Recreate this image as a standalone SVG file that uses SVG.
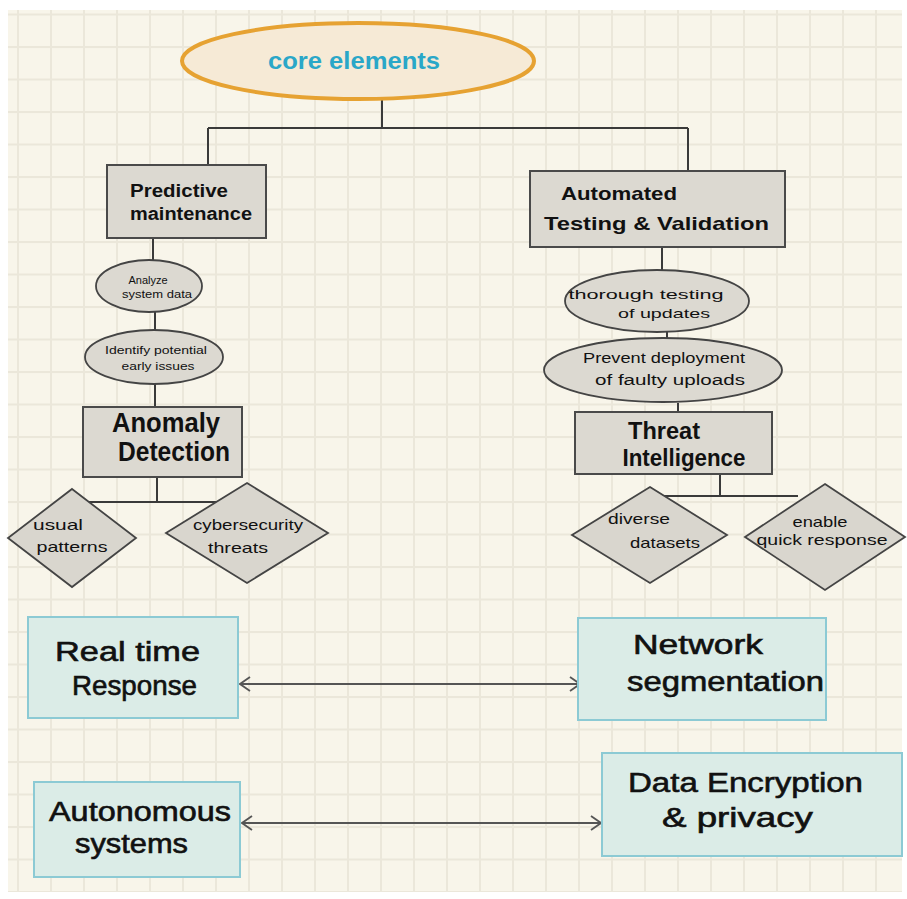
<svg xmlns="http://www.w3.org/2000/svg" width="907" height="899" viewBox="0 0 907 899">
<defs>
<pattern id="grid" patternUnits="userSpaceOnUse" x="17" y="13.5" width="33" height="32.5">
<rect width="33" height="32.5" fill="#f8f5ea"/>
<rect x="0" y="0" width="2" height="32.5" fill="#ebe7da"/>
<rect x="0" y="0" width="33" height="2" fill="#ebe7da"/>
</pattern>
<marker id="chev" viewBox="0 0 12 16" refX="11" refY="8" markerWidth="12" markerHeight="16" markerUnits="userSpaceOnUse" orient="auto-start-reverse">
<path d="M1,1 L11,8 L1,15" fill="none" stroke="#555" stroke-width="1.8"/>
</marker>
</defs>
<style>
.gbox{fill:#dcd9d1;stroke:#4a4a4a;stroke-width:2}
.ell{fill:#dcd9d1;stroke:#444;stroke-width:1.8}
.dia{fill:#d9d6ce;stroke:#444;stroke-width:1.8}
.tbox{fill:#dbece7;stroke:#8ccad4;stroke-width:2}
.con{fill:none;stroke:#3a3a3a;stroke-width:2}
.arr{fill:none;stroke:#555;stroke-width:2}
text{font-family:"Liberation Sans",Arial,sans-serif;fill:#111;dominant-baseline:central}
.h{font-weight:bold}
.s{font-size:11px}
.m{font-size:15px}
.b{font-size:27px;stroke:#111;stroke-width:0.6}
</style>
<rect width="907" height="899" fill="#ffffff"/>
<rect x="8" y="10" width="894" height="882" fill="url(#grid)"/>

<g id="connectors">
<path class="con" d="M382,99 V128 M208,128 H688 M208,128 V165 M688,128 V171"/>
<path class="con" d="M153,238 V260 M155,311 V331 M155,383 V407"/>
<path class="con" d="M157,477 V502 M77,502 H220"/>
<path class="con" d="M662,247 V270 M667,332 V339 M678,403 V412"/>
<path class="con" d="M720,474 V496 M658,496 H798"/>
<line class="arr" x1="240" y1="684" x2="580" y2="684" marker-start="url(#chev)" marker-end="url(#chev)"/>
<line class="arr" x1="242" y1="823" x2="601" y2="823" marker-start="url(#chev)" marker-end="url(#chev)"/>
</g>

<g id="core">
<ellipse cx="358" cy="61" rx="176" ry="38" fill="#f6ead6" stroke="#e6a232" stroke-width="4"/>
<text x="354" y="60" font-size="24" font-weight="bold" style="fill:#2aa7c8" text-anchor="middle" textLength="172" lengthAdjust="spacingAndGlyphs">core elements</text>
</g>

<g id="predictive">
<rect class="gbox" x="107" y="165" width="159" height="73"/>
<text class="h" x="130" y="191" font-size="18" textLength="98" lengthAdjust="spacingAndGlyphs">Predictive</text>
<text class="h" x="130" y="214" font-size="18" textLength="122" lengthAdjust="spacingAndGlyphs">maintenance</text>
</g>

<g id="automated">
<rect class="gbox" x="530" y="171" width="255" height="76"/>
<text class="h" x="561" y="193" font-size="19" textLength="116" lengthAdjust="spacingAndGlyphs">Automated</text>
<text class="h" x="544" y="223" font-size="19" textLength="225" lengthAdjust="spacingAndGlyphs">Testing &amp; Validation</text>
</g>

<g id="analyze">
<ellipse class="ell" cx="149" cy="286" rx="53" ry="26"/>
<text class="s" x="148" y="280" text-anchor="middle">Analyze</text>
<text class="s" x="157" y="294" text-anchor="middle" textLength="70" lengthAdjust="spacingAndGlyphs">system data</text>
</g>

<g id="identify">
<ellipse class="ell" cx="154" cy="357" rx="69" ry="27"/>
<text class="s" x="156" y="350" text-anchor="middle" textLength="102" lengthAdjust="spacingAndGlyphs">Identify potential</text>
<text class="s" x="158" y="366" text-anchor="middle" textLength="73" lengthAdjust="spacingAndGlyphs">early issues</text>
</g>

<g id="anomaly">
<rect class="gbox" x="83" y="407" width="159" height="70"/>
<text class="h" font-size="27" x="166" y="423" text-anchor="middle" textLength="108" lengthAdjust="spacingAndGlyphs">Anomaly</text>
<text class="h" font-size="27" x="174" y="452" text-anchor="middle" textLength="112" lengthAdjust="spacingAndGlyphs">Detection</text>
</g>

<g id="usual">
<polygon class="dia" points="72,489 136,538 72,587 8,538"/>
<text class="m" x="58" y="524" text-anchor="middle" textLength="50" lengthAdjust="spacingAndGlyphs">usual</text>
<text class="m" x="72" y="546" text-anchor="middle" textLength="71" lengthAdjust="spacingAndGlyphs">patterns</text>
</g>

<g id="cyber">
<polygon class="dia" points="247,483 328,533 247,583 166,533"/>
<text class="m" x="248" y="524" text-anchor="middle" textLength="110" lengthAdjust="spacingAndGlyphs">cybersecurity</text>
<text class="m" x="238" y="547" text-anchor="middle" textLength="60" lengthAdjust="spacingAndGlyphs">threats</text>
</g>

<g id="thorough">
<ellipse class="ell" cx="657" cy="301" rx="92" ry="31"/>
<text x="646" y="294" text-anchor="middle" style="font-size:13px" textLength="155" lengthAdjust="spacingAndGlyphs">thorough testing</text>
<text x="664" y="313" text-anchor="middle" style="font-size:13px" textLength="92" lengthAdjust="spacingAndGlyphs">of updates</text>
</g>

<g id="prevent">
<ellipse class="ell" cx="663" cy="370" rx="119" ry="32"/>
<text x="664" y="358" text-anchor="middle" style="font-size:14px" textLength="162" lengthAdjust="spacingAndGlyphs">Prevent deployment</text>
<text x="670" y="380" text-anchor="middle" style="font-size:14px" textLength="150" lengthAdjust="spacingAndGlyphs">of faulty uploads</text>
</g>

<g id="threat">
<rect class="gbox" x="575" y="412" width="197" height="62"/>
<text class="h" x="664" y="430" font-size="24" text-anchor="middle" textLength="72" lengthAdjust="spacingAndGlyphs">Threat</text>
<text class="h" x="684" y="457" font-size="24" text-anchor="middle" textLength="123" lengthAdjust="spacingAndGlyphs">Intelligence</text>
</g>

<g id="diverse">
<polygon class="dia" points="650,487 727,535 650,583 572,535"/>
<text class="m" x="639" y="518" text-anchor="middle" textLength="62" lengthAdjust="spacingAndGlyphs">diverse</text>
<text class="m" x="665" y="542" text-anchor="middle" textLength="70" lengthAdjust="spacingAndGlyphs">datasets</text>
</g>

<g id="enable">
<polygon class="dia" points="825,484 905,537 825,590 745,537"/>
<text class="m" x="820" y="521" text-anchor="middle" textLength="55" lengthAdjust="spacingAndGlyphs">enable</text>
<text class="m" x="822" y="539" text-anchor="middle" textLength="131" lengthAdjust="spacingAndGlyphs">quick response</text>
</g>

<g id="realtime">
<rect class="tbox" x="28" y="617" width="210" height="101"/>
<text class="b" x="55" y="652" textLength="145" lengthAdjust="spacingAndGlyphs">Real time</text>
<text class="b" x="72" y="686" textLength="125" lengthAdjust="spacingAndGlyphs">Response</text>
</g>

<g id="network">
<rect class="tbox" x="578" y="618" width="248" height="102"/>
<text class="b" x="633" y="645" textLength="130" lengthAdjust="spacingAndGlyphs">Network</text>
<text class="b" x="627" y="682" textLength="197" lengthAdjust="spacingAndGlyphs">segmentation</text>
</g>

<g id="autonomous">
<rect class="tbox" x="34" y="782" width="206" height="95"/>
<text class="b" x="49" y="812" textLength="182" lengthAdjust="spacingAndGlyphs">Autonomous</text>
<text class="b" x="75" y="844" textLength="113" lengthAdjust="spacingAndGlyphs">systems</text>
</g>

<g id="encryption">
<rect class="tbox" x="602" y="753" width="300" height="103"/>
<text class="b" x="628" y="783" textLength="235" lengthAdjust="spacingAndGlyphs">Data Encryption</text>
<text class="b" x="662" y="818" textLength="151" lengthAdjust="spacingAndGlyphs">&amp; privacy</text>
</g>
</svg>
